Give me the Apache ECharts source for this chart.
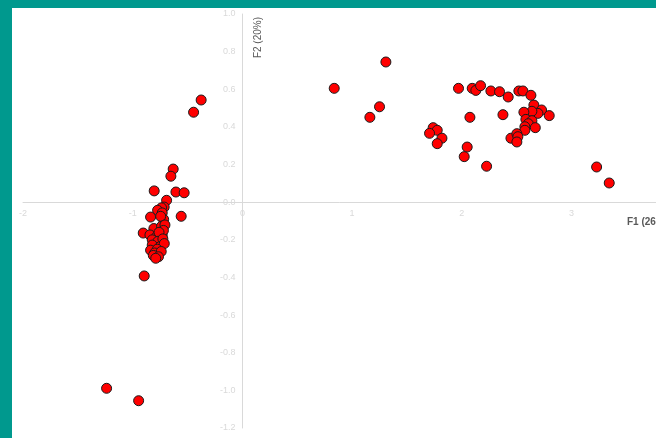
<!DOCTYPE html>
<html>
<head>
<meta charset="utf-8">
<script src="https://cdn.jsdelivr.net/npm/echarts@6/dist/echarts.min.js"></script>
<style>
  html, body { margin: 0; padding: 0; width: 656px; height: 438px; background: #00998E; overflow: hidden; }
  #chart { position: absolute; left: 12px; top: 8px; width: 644px; height: 430px; background: #ffffff; }
</style>
</head>
<body>
<div id="chart"></div>
<script>
// Observation scores on the first two factors
const obsF1 = [
  -0.376, -0.445, -0.631, -0.652, -0.804, -0.606, -0.531, -0.691, -0.713, -0.737,
  -0.773, -0.837, -0.558, -0.731, -0.718, -0.745, -0.904, -0.807, -0.737, -0.706,
  -0.843, -0.782, -0.731, -0.720, -0.760, -0.822, -0.770, -0.725, -0.822, -0.750,
  -0.712, -0.837, -0.776, -0.800, -0.740, -0.812, -0.765, -0.790, -0.895, -1.238,
  -0.946,
  0.837, 1.308, 1.250, 1.162, 1.970, 2.095, 2.128, 2.171, 2.265, 2.344,
  2.423, 2.520, 2.557, 2.630, 2.657, 2.727, 2.694, 2.639, 2.566, 2.797,
  2.375, 2.074, 2.584, 2.639, 2.606, 2.575, 2.670, 2.575, 2.448, 2.502,
  2.511, 2.502, 1.739, 1.776, 1.706, 1.819, 1.776, 2.049, 2.022, 2.226,
  3.229, 3.344
];
const obsF2 = [
  0.543, 0.478, 0.176, 0.138, 0.060, 0.054, 0.050, 0.010, -0.026, -0.030,
  -0.043, -0.079, -0.075, -0.057, -0.091, -0.075, -0.164, -0.140, -0.128, -0.121,
  -0.174, -0.183, -0.174, -0.150, -0.160, -0.200, -0.208, -0.195, -0.228, -0.236,
  -0.220, -0.255, -0.250, -0.270, -0.262, -0.283, -0.290, -0.298, -0.392, -0.989,
  -1.055,
  0.605, 0.745, 0.507, 0.451, 0.605, 0.605, 0.594, 0.619, 0.591, 0.587,
  0.559, 0.591, 0.591, 0.568, 0.516, 0.490, 0.472, 0.483, 0.478, 0.460,
  0.465, 0.451, 0.440, 0.433, 0.417, 0.401, 0.396, 0.382, 0.340, 0.364,
  0.348, 0.320, 0.396, 0.382, 0.366, 0.340, 0.311, 0.293, 0.242, 0.191,
  0.187, 0.102
];
const xAxisTitle = 'F1 (26%)';
const yAxisTitle = 'F2 (20%)';

const points = obsF1.map((x, i) => [x, obsF2[i]]);

// Plot frame and axis ranges
const gridLeft = 11, gridTop = 6, gridWidth = 658.2, gridHeight = 414;
const xMin = -2, xMax = 4, yMin = -1.2, yMax = 1.0;
// Both axes cross at the origin; shift each axis (line and labels) there
const yAxisShift = gridWidth * (0 - xMin) / (xMax - xMin);
const xAxisShift = gridHeight * (0 - yMin) / (yMax - yMin);

const chart = echarts.init(document.getElementById('chart'), null, { renderer: 'canvas' });
const tickColor = '#d9d9d9';
const fontFamily = '"Liberation Sans", "DejaVu Sans", sans-serif';

chart.setOption({
  animation: false,
  backgroundColor: '#ffffff',
  grid: { left: gridLeft, top: gridTop, width: gridWidth, height: gridHeight,
    containLabel: false, outerBoundsMode: 'none' },
  xAxis: {
    type: 'value', min: xMin, max: xMax, interval: 1,
    position: 'bottom', offset: -xAxisShift,
    axisLine: { onZero: false, lineStyle: { color: tickColor, width: 1 } },
    axisTick: { show: false },
    splitLine: { show: false },
    axisLabel: { color: tickColor, fontSize: 9, fontFamily: fontFamily, margin: 7,
      formatter: v => (v >= 4 ? '' : String(v)) }
  },
  yAxis: {
    type: 'value', min: yMin, max: yMax, interval: 0.2,
    position: 'left', offset: -yAxisShift,
    axisLine: { onZero: false, lineStyle: { color: tickColor, width: 1 } },
    axisTick: { show: false },
    splitLine: { show: false },
    axisLabel: { color: tickColor, fontSize: 9, fontFamily: fontFamily, margin: 7,
      formatter: v => v.toFixed(1) }
  },
  graphic: [
    { type: 'text', left: 241, top: 9, rotation: Math.PI / 2,
      style: { text: yAxisTitle, fill: '#595959', font: '10px ' + fontFamily } },
    { type: 'text', left: 615, top: 209,
      style: { text: xAxisTitle, fill: '#595959', font: 'bold 10px ' + fontFamily } }
  ],
  series: [{
    type: 'scatter',
    data: points,
    symbol: 'circle',
    symbolSize: 10,
    itemStyle: { color: '#ff0000', borderColor: '#1a1a1a', borderWidth: 1, opacity: 1 }
  }]
});
</script>
</body>
</html>
